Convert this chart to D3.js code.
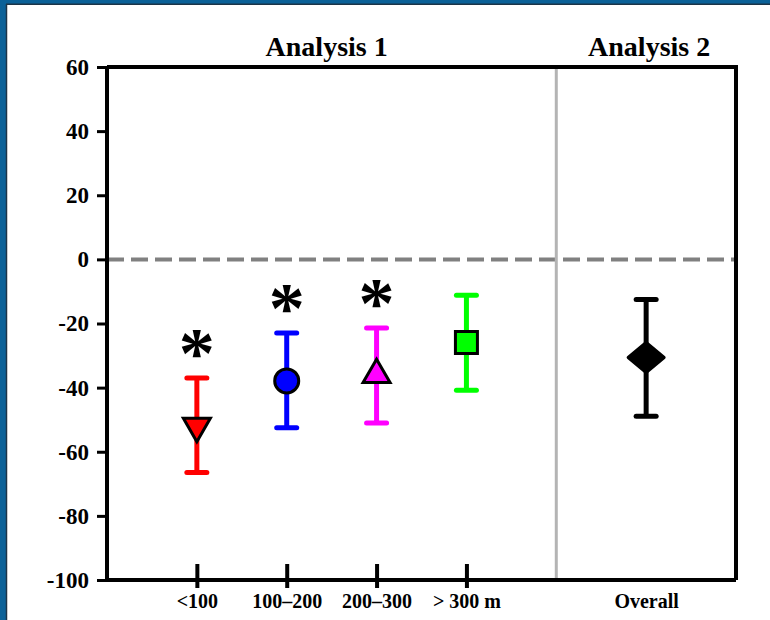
<!DOCTYPE html>
<html>
<head>
<meta charset="utf-8">
<script src="https://cdn.jsdelivr.net/npm/d3@7"></script>
<style>
  html, body { margin: 0; padding: 0; background: #0b6198; }
  svg { display: block; }
</style>
</head>
<body>
<svg id="chart" width="770" height="620"></svg>
<script>
// ---- data ----
const categories = ["<100", "100\u2013200", "200\u2013300", "> 300 m", "Overall"];
const positions  = [1, 2, 3, 4, 6];            // slot on the x axis (slot 5 = separator)
const means      = [-52, -37.9, -36, -25.9, -30.6];
const lowerCI    = [-66.5, -52.5, -51, -40.8, -48.9];
const upperCI    = [-37, -23, -21.4, -11.2, -12.5];
const significant = [true, true, true, false, false];
const colors     = ["#ff0000", "#0000ff", "#ff00ff", "#00ff00", "#000000"];
const shapes     = ["triangleDown", "circle", "triangleUp", "square", "diamond"];
const yTicks     = [60, 40, 20, 0, -20, -40, -60, -80, -100];
const groupTitles = ["Analysis 1", "Analysis 2"];
const groupTitlePos = [2.5, 6];
const separatorPos = 5;

// ---- layout ----
const svg = d3.select("#chart");
svg.append("rect").attr("x", 7).attr("y", 5).attr("width", 763).attr("height", 615).attr("fill", "#ffffff");
svg.append("line").attr("x1", 6.5).attr("x2", 6.5).attr("y1", 4).attr("y2", 620).attr("stroke", "#1c3447").attr("stroke-width", 1.5);
svg.append("line").attr("x1", 6).attr("x2", 770).attr("y1", 4.2).attr("y2", 4.2).attr("stroke", "#1c3447").attr("stroke-width", 1.5);

const x = d3.scaleLinear().domain([0, 7]).range([107, 736]);
const y = d3.scaleLinear().domain([-100, 60]).range([580, 67]);

const font = "'Liberation Serif', 'Times New Roman', serif";
const g = svg.append("g");

// zero dashed line
g.append("line")
  .attr("x1", x(0)).attr("x2", x(7)).attr("y1", y(0)).attr("y2", y(0))
  .attr("stroke", "#808080").attr("stroke-width", 4).attr("stroke-dasharray", "17,7");

// separator
g.append("line")
  .attr("x1", x(separatorPos)).attr("x2", x(separatorPos)).attr("y1", y(60)).attr("y2", y(-100))
  .attr("stroke", "#b4b4b4").attr("stroke-width", 3);

// frame: top and right
g.append("path")
  .attr("d", `M${x(0)},${y(60)}H${x(7)}V${y(-100)}`)
  .attr("fill", "none").attr("stroke", "#000").attr("stroke-width", 4);

// y axis
const yAxis = g.append("g").attr("transform", `translate(${x(0)},0)`)
  .call(d3.axisLeft(y).tickValues(yTicks).tickSize(10).tickPadding(8).tickFormat(d3.format("d")));
yAxis.select(".domain").attr("stroke", "#000").attr("stroke-width", 4).attr("d", `M0,${y(60)}V${y(-100)}`);
yAxis.selectAll(".tick line").attr("stroke", "#000").attr("stroke-width", 3);
yAxis.selectAll(".tick text")
  .attr("font-family", font).attr("font-weight", "bold").attr("font-size", 23).attr("fill", "#000")
  .text(d => d < 0 ? "-" + Math.abs(d) : d);

// x axis
const xAxis = g.append("g").attr("transform", `translate(0,${y(-100)})`)
  .call(d3.axisBottom(x).tickValues(positions).tickSize(0).tickPadding(14)
    .tickFormat((d, i) => categories[i]));
xAxis.select(".domain").attr("stroke", "#000").attr("stroke-width", 4).attr("d", `M${x(0)},0H${x(7)}`);
xAxis.selectAll(".tick text")
  .attr("font-family", font).attr("font-weight", "bold").attr("font-size", 20).attr("fill", "#000");
xAxis.selectAll(".tick").filter((d, i) => i < 4).append("line")
  .attr("y1", -16).attr("y2", 8).attr("stroke", "#000").attr("stroke-width", 4);

// group titles
g.selectAll(".gtitle").data(groupTitles).join("text")
  .attr("x", (d, i) => x(groupTitlePos[i]) - (i === 0 ? 5 : -3))
  .attr("y", 56)
  .attr("text-anchor", "middle")
  .attr("font-family", font).attr("font-weight", "bold").attr("font-size", 28)
  .text(d => d);

// error bars
const capHalf = 10;
const bars = g.selectAll(".bar").data(categories).join("g").attr("class", "bar");
bars.append("line")
  .attr("x1", (d, i) => x(positions[i])).attr("x2", (d, i) => x(positions[i]))
  .attr("y1", (d, i) => y(lowerCI[i])).attr("y2", (d, i) => y(upperCI[i]))
  .attr("stroke", (d, i) => colors[i]).attr("stroke-width", 5);
[upperCI, lowerCI].forEach(arr => {
  bars.append("line")
    .attr("x1", (d, i) => x(positions[i]) - capHalf).attr("x2", (d, i) => x(positions[i]) + capHalf)
    .attr("y1", (d, i) => y(arr[i])).attr("y2", (d, i) => y(arr[i]))
    .attr("stroke", (d, i) => colors[i]).attr("stroke-width", 5).attr("stroke-linecap", "round");
});

// markers
function markerPath(shape) {
  switch (shape) {
    case "circle": return d3.symbol(d3.symbolCircle, Math.PI * 12 * 12)();
    case "square": return d3.symbol(d3.symbolSquare, 22 * 22)();
    case "triangleUp": return d3.symbol(d3.symbolTriangle, 0.433 * 27 * 27)();
    case "triangleDown": return d3.symbol(d3.symbolTriangle, 0.433 * 27 * 27)();
    case "diamond": return "M-18,0L0,-15L18,0L0,15Z";
  }
}
bars.append("path")
  .attr("transform", (d, i) => `translate(${x(positions[i])},${y(means[i])})` + (shapes[i] === "triangleDown" ? " rotate(180)" : ""))
  .attr("d", (d, i) => markerPath(shapes[i]))
  .attr("fill", (d, i) => colors[i])
  .attr("stroke", "#000").attr("stroke-width", 3).attr("stroke-linejoin", (d, i) => shapes[i] === "diamond" ? "round" : "miter");

// significance asterisks
g.selectAll(".sig").data(categories.filter((d, i) => significant[i])).join("text")
  .attr("x", d => x(positions[categories.indexOf(d)]))
  .attr("y", d => y(upperCI[categories.indexOf(d)]) - 1)
  .attr("text-anchor", "middle")
  .attr("font-family", font).attr("font-weight", "bold").attr("font-size", 72)
  .text("*");
</script>
</body>
</html>
